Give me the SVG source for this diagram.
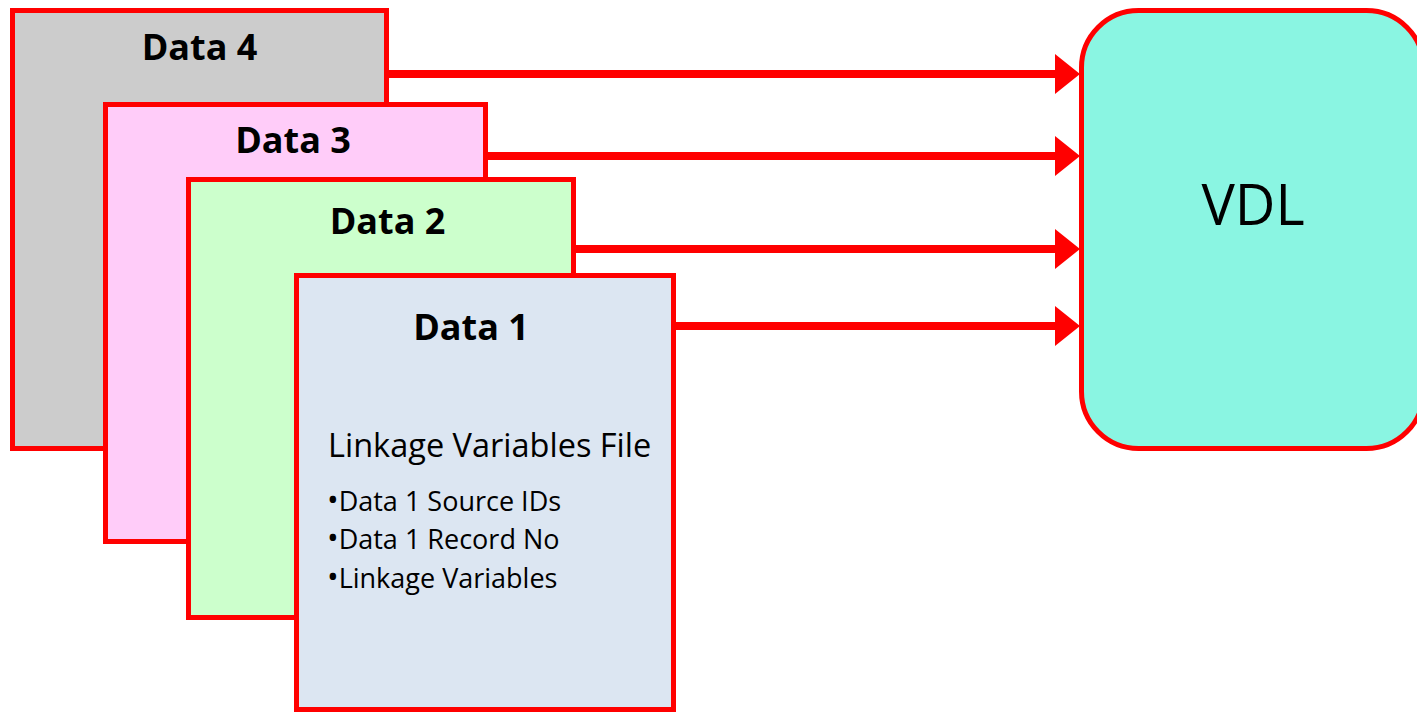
<svg xmlns="http://www.w3.org/2000/svg" width="1417" height="712" viewBox="0 0 1417 712">
  <style>
    .box { stroke: #FF0000; stroke-width: 5; }
    .title { font-family: "Open Sans", "Liberation Sans", sans-serif; font-weight: bold; font-size: 36px; fill: #000; text-anchor: middle; }
    .body { font-family: "Open Sans", "Liberation Sans", sans-serif; fill: #000; }
    .item { font-size: 27px; }
    .dot { font-size: 31px; }
    .link { stroke: #FF0000; stroke-width: 8; fill: none; marker-end: url(#head); }
  </style>
  <defs>
    <marker id="head" markerUnits="userSpaceOnUse" markerWidth="25" markerHeight="40" viewBox="0 0 25 40" refX="5" refY="20" orient="auto">
      <path d="M0,0 L25,20 L0,40 Z" fill="#FF0000"/>
    </marker>
  </defs>
  <rect width="1417" height="712" fill="#FFFFFF"/>

  <!-- stacked data files, back to front -->
  <g id="data4">
    <rect class="box" x="12.5" y="10.5" width="374" height="438" fill="#CCCCCC"/>
    <text class="title" x="199.5" y="60">Data 4</text>
  </g>
  <g id="data3">
    <rect class="box" x="105.5" y="104.5" width="380" height="437" fill="#FFCCF9"/>
    <text class="title" x="293" y="153">Data 3</text>
  </g>
  <g id="data2">
    <rect class="box" x="188.5" y="179.5" width="385" height="438" fill="#CCFFCC"/>
    <text class="title" x="387.5" y="234">Data 2</text>
  </g>
  <g id="data1">
    <rect class="box" x="296.5" y="275.5" width="377" height="434" fill="#DCE6F2"/>
    <text class="title" x="471" y="340">Data 1</text>
    <text class="body" x="328" y="457" font-size="32.5">Linkage Variables File</text>
    <text class="body item" x="327" y="511"><tspan class="dot">•</tspan>Data 1 Source IDs</text>
    <text class="body item" x="327" y="549"><tspan class="dot">•</tspan>Data 1 Record No</text>
    <text class="body item" x="327" y="588"><tspan class="dot">•</tspan>Linkage Variables</text>
  </g>

  <!-- target store -->
  <g id="vdl">
    <rect class="box" x="1081.5" y="10.5" width="342" height="438" rx="57" ry="57" fill="#8AF5E2"/>
    <text class="body" x="1253" y="225" font-size="56" text-anchor="middle">VDL</text>
  </g>

  <!-- feeds into VDL -->
  <g id="connectors">
    <line class="link" x1="389" y1="74" x2="1060" y2="74"/>
    <line class="link" x1="488" y1="156" x2="1060" y2="156"/>
    <line class="link" x1="576" y1="249" x2="1060" y2="249"/>
    <line class="link" x1="676" y1="326" x2="1060" y2="326"/>
  </g>
</svg>
